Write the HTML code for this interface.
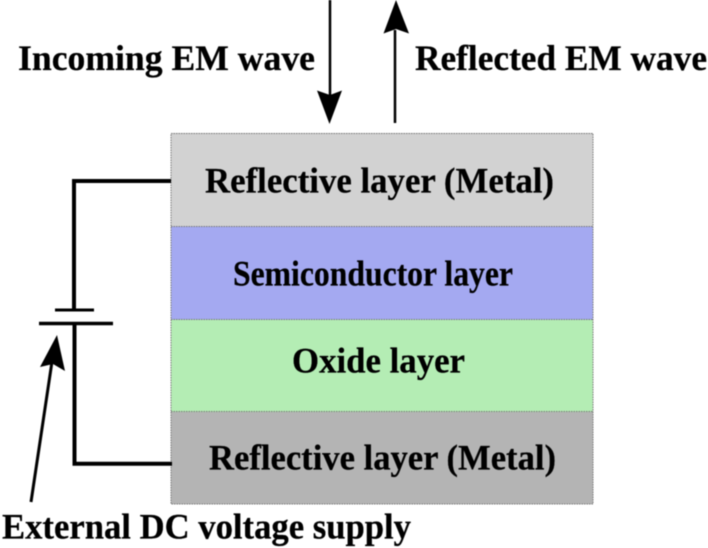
<!DOCTYPE html>
<html><head><meta charset="utf-8"><style>
html,body{margin:0;padding:0;background:#fff}
svg{display:block;filter:blur(.4px)}
text{font-family:"Liberation Serif",serif;font-weight:bold;fill:#000;font-size:36px;stroke:#000;stroke-width:.25px}
</style></head><body>
<svg width="708" height="548" viewBox="0 0 708 548" xmlns="http://www.w3.org/2000/svg">
<rect x="0" y="0" width="708" height="548" fill="#fff"/>
<rect x="171" y="133" width="422" height="93.500" fill="#d2d2d2"/>
<rect x="171" y="226.500" width="422" height="93" fill="#a4a9f1"/>
<rect x="171" y="319.500" width="422" height="92.500" fill="#b4edb4"/>
<rect x="171" y="412" width="422" height="92" fill="#b4b4b4"/>
<g fill="none" stroke="#777" stroke-width="1" stroke-dasharray="1.500 1">
<rect x="171" y="133.500" width="422" height="370.500"/>
<path d="M171 226.500H593M171 319.500H593M171 411.500H593"/>
</g>
<g fill="none" stroke="#000">
<path d="M330 0V100" stroke-width="2.500"/>
<path d="M395 123V30" stroke-width="2.500"/>
<path d="M171 181H74V310" stroke-width="4"/>
<path d="M172 463.700H74.500V323" stroke-width="4"/>
<path d="M55 310H94" stroke-width="3"/>
<path d="M39 323.500H113" stroke-width="3.500"/>
<path d="M31 502L53 355" stroke-width="3"/>
</g>
<g fill="#000">
<path d="M317 90.500L330 95L342 90.500L329.500 124Z"/>
<path d="M396 0L409 33.500L396 29L383.500 33.500Z"/>
<path d="M57 335L65 371L53 364L40 367Z"/>
</g>
<text x="18" y="70" textLength="297" lengthAdjust="spacingAndGlyphs">Incoming EM wave</text>
<text x="415" y="70" textLength="292" lengthAdjust="spacingAndGlyphs">Reflected EM wave</text>
<text x="205" y="192.300" textLength="349" lengthAdjust="spacingAndGlyphs">Reflective layer (Metal)</text>
<text x="233" y="285.700" textLength="280" lengthAdjust="spacingAndGlyphs">Semiconductor layer</text>
<text x="292" y="372.700" textLength="173" lengthAdjust="spacingAndGlyphs">Oxide layer</text>
<text x="209" y="469.300" textLength="347" lengthAdjust="spacingAndGlyphs">Reflective layer (Metal)</text>
<text x="2" y="538.300" textLength="409" lengthAdjust="spacingAndGlyphs">External DC voltage supply</text>
</svg>
</body></html>
